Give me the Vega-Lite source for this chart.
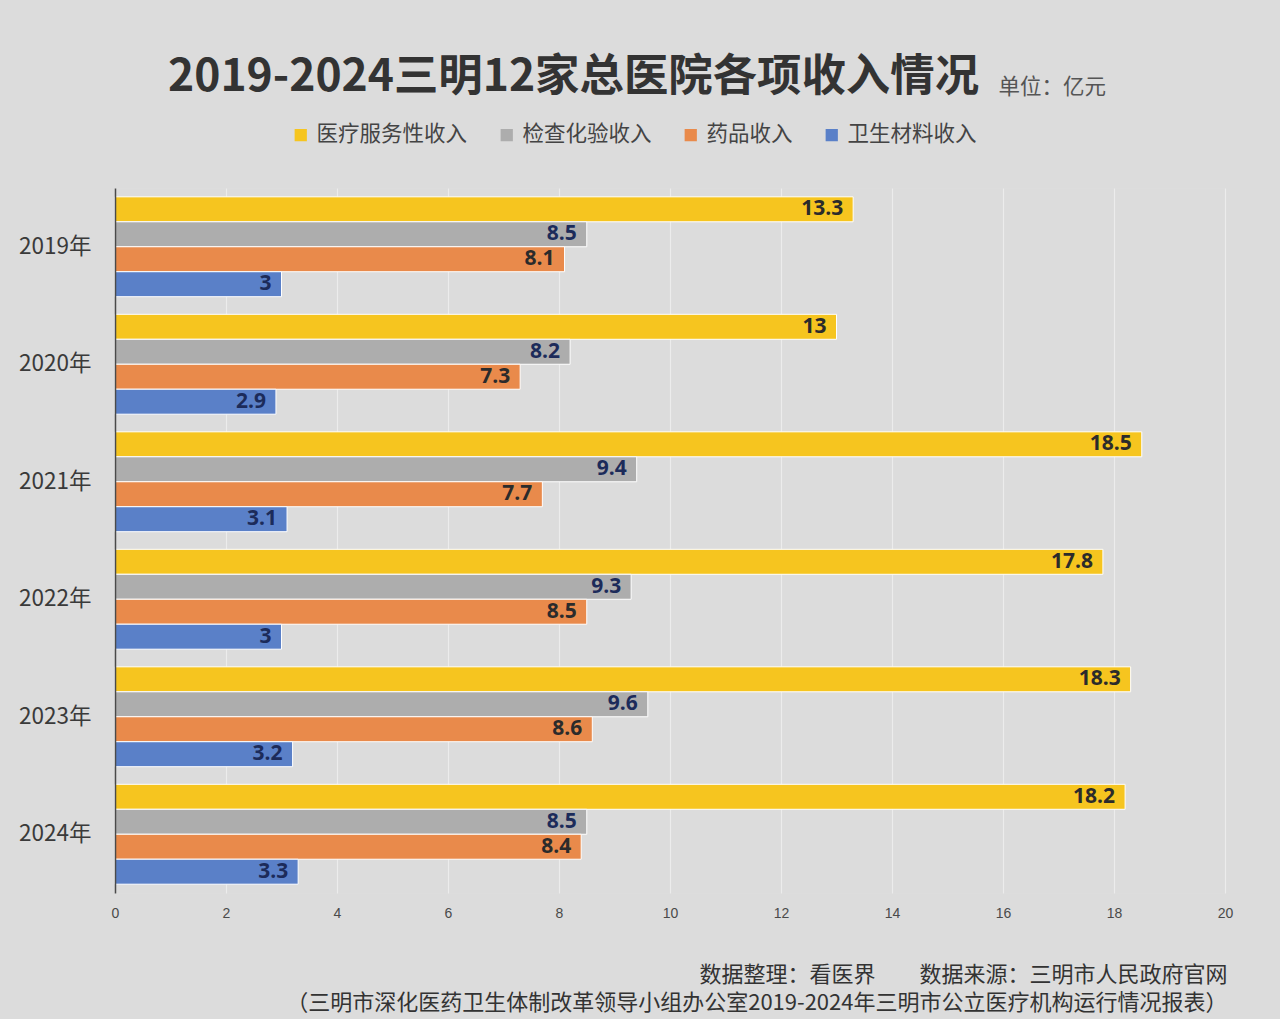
{
  "$schema": "https://vega.github.io/schema/vega-lite/v6.json",
  "autosize": {"type": "none"},
  "width": 1110,
  "height": 705,
  "padding": {"left": 115, "top": 188, "right": 55, "bottom": 126},
  "background": "#dcdcdc",
  "title": {
    "text": "2019-2024三明12家总医院各项收入情况",
    "anchor": "start",
    "frame": "group",
    "dx": 53,
    "orient": "top",
    "offset": -68,
    "baseline": "bottom",
    "font": "Noto Sans CJK SC",
    "fontSize": 44.4,
    "fontWeight": "bold",
    "color": "#333333"
  },
  "data": {
    "values": [
      {"year": "2019年", "series": "医疗服务性收入", "value": 13.3},
      {"year": "2019年", "series": "检查化验收入", "value": 8.5},
      {"year": "2019年", "series": "药品收入", "value": 8.1},
      {"year": "2019年", "series": "卫生材料收入", "value": 3},
      {"year": "2020年", "series": "医疗服务性收入", "value": 13},
      {"year": "2020年", "series": "检查化验收入", "value": 8.2},
      {"year": "2020年", "series": "药品收入", "value": 7.3},
      {"year": "2020年", "series": "卫生材料收入", "value": 2.9},
      {"year": "2021年", "series": "医疗服务性收入", "value": 18.5},
      {"year": "2021年", "series": "检查化验收入", "value": 9.4},
      {"year": "2021年", "series": "药品收入", "value": 7.7},
      {"year": "2021年", "series": "卫生材料收入", "value": 3.1},
      {"year": "2022年", "series": "医疗服务性收入", "value": 17.8},
      {"year": "2022年", "series": "检查化验收入", "value": 9.3},
      {"year": "2022年", "series": "药品收入", "value": 8.5},
      {"year": "2022年", "series": "卫生材料收入", "value": 3},
      {"year": "2023年", "series": "医疗服务性收入", "value": 18.3},
      {"year": "2023年", "series": "检查化验收入", "value": 9.6},
      {"year": "2023年", "series": "药品收入", "value": 8.6},
      {"year": "2023年", "series": "卫生材料收入", "value": 3.2},
      {"year": "2024年", "series": "医疗服务性收入", "value": 18.2},
      {"year": "2024年", "series": "检查化验收入", "value": 8.5},
      {"year": "2024年", "series": "药品收入", "value": 8.4},
      {"year": "2024年", "series": "卫生材料收入", "value": 3.3}
    ]
  },
  "encoding": {
    "y": {
      "field": "year",
      "type": "nominal",
      "scale": {"paddingInner": 0.15, "paddingOuter": 0.075},
      "axis": {
        "zindex": 1,
        "title": "单位：亿元",
        "titleAngle": 0,
        "titleX": 883,
        "titleY": -95,
        "titleAlign": "left",
        "titleBaseline": "alphabetic",
        "titleFont": "Noto Sans CJK SC",
        "titleFontSize": 21.5,
        "titleFontWeight": "normal",
        "titleColor": "#555555",
        "labelFont": "Noto Sans CJK SC",
        "labelFontSize": 22.5,
        "labelColor": "#3a3a3a",
        "labelPadding": 24,
        "ticks": false,
        "domain": true,
        "domainColor": "#4a4a4a",
        "domainWidth": 1.5,
        "grid": false
      }
    },
    "yOffset": {
      "field": "series",
      "type": "nominal",
      "sort": ["医疗服务性收入", "检查化验收入", "药品收入", "卫生材料收入"],
      "scale": {"paddingInner": 0, "paddingOuter": 0}
    },
    "x": {
      "field": "value",
      "type": "quantitative",
      "scale": {"domain": [0, 20], "nice": false},
      "axis": {
        "values": [0, 2, 4, 6, 8, 10, 12, 14, 16, 18, 20],
        "title": [
          "数据整理：看医界　　数据来源：三明市人民政府官网",
          "（三明市深化医药卫生体制改革领导小组办公室2019-2024年三明市公立医疗机构运行情况报表）"
        ],
        "titleX": 1112,
        "titleY": 88,
        "titleAlign": "right",
        "titleBaseline": "alphabetic",
        "titleLineHeight": 28,
        "titleFont": "Noto Sans CJK SC",
        "titleFontSize": 22,
        "titleFontWeight": "normal",
        "titleColor": "#333333",
        "labelFont": "Liberation Sans",
        "labelFontSize": 14,
        "labelColor": "#4a4a4a",
        "labelPadding": 13,
        "labelFlush": false,
        "ticks": false,
        "domain": false,
        "grid": true,
        "gridColor": "#ececec",
        "gridWidth": 1.2
      }
    }
  },
  "layer": [
    {
      "mark": {"type": "bar", "stroke": "#ffffff", "strokeWidth": 1},
      "encoding": {
        "color": {
          "field": "series",
          "type": "nominal",
          "sort": ["医疗服务性收入", "检查化验收入", "药品收入", "卫生材料收入"],
          "scale": {
            "domain": ["医疗服务性收入", "检查化验收入", "药品收入", "卫生材料收入"],
            "range": ["#f6c51f", "#adadad", "#e98a4b", "#5a80c8"]
          },
          "legend": {
            "title": null,
            "orient": "none",
            "direction": "horizontal",
            "legendX": 175,
            "legendY": -64,
            "symbolType": "square",
            "symbolSize": 150,
            "symbolStrokeWidth": 0,
            "labelFont": "Noto Sans CJK SC",
            "labelFontSize": 21.5,
            "labelColor": "#444444",
            "labelLimit": 300,
            "columnPadding": 28,
            "labelOffset": 5
          }
        }
      }
    },
    {
      "mark": {
        "type": "text",
        "align": "right",
        "baseline": "middle",
        "dx": -10,
        "font": "Open Sans",
        "fontSize": 21,
        "fontWeight": "bold"
      },
      "encoding": {
        "text": {"field": "value", "type": "quantitative"},
        "color": {
          "condition": {
            "test": "datum.series === '医疗服务性收入' || datum.series === '药品收入'",
            "value": "#2b2b2b"
          },
          "value": "#1c2b5a"
        }
      }
    }
  ]
}
